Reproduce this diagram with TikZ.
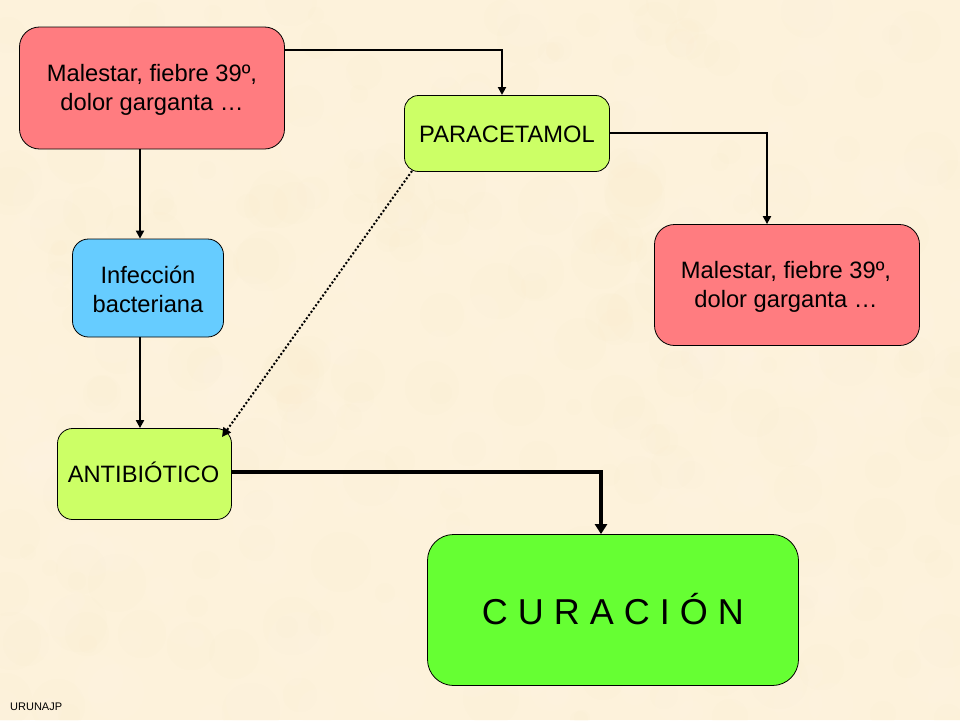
\documentclass[tikz,border=0pt]{standalone}
\usepackage{fontspec}
\setmainfont{Liberation Sans}
\usetikzlibrary{arrows.meta,calc}
\definecolor{paper}{HTML}{FDF2DB}
\definecolor{paperlight}{HTML}{FFF8EA}
\definecolor{paperdark}{HTML}{FBECCD}
\definecolor{redbox}{HTML}{FF7C80}
\definecolor{bluebox}{HTML}{66CCFF}
\definecolor{limebox}{HTML}{CCFF66}
\definecolor{greenbox}{HTML}{66FF33}
\tikzset{
  x=1pt,y=-1pt,
  box/.style={draw=black,line width=0.8pt,rounded corners=#1,anchor=center,inner sep=0pt},
  box/.default=20pt,
  lab/.style={align=center,inner sep=0pt,font=\fontsize{23.7}{29}\selectfont},
  link/.style={draw=black,line width=2pt,-{Triangle[length=8pt,width=8pt]}},
  biglink/.style={draw=black,line width=4pt,-{Triangle[length=10pt,width=12pt]}},
  dotlink/.style={draw=black,line width=2pt,dash pattern=on 2pt off 2pt,-{Triangle[length=9pt,width=9pt]}}
}
\begin{document}
\begin{tikzpicture}
\useasboundingbox (0,0) rectangle (960,720);
\fill[paper] (0,0) rectangle (960,720);
\pgfmathsetseed{7}
\foreach \i in {1,...,500}{
  \pgfmathsetmacro{\px}{random(0,960)}
  \pgfmathsetmacro{\py}{random(0,720)}
  \pgfmathsetmacro{\pr}{random(8,30)}
  \pgfmathtruncatemacro{\pc}{mod(\i,2)}
  \ifnum\pc=0
    \fill[paperlight,opacity=.12] (\px,\py) circle[radius=\pr];
  \else
    \fill[paperdark,opacity=.12] (\px,\py) circle[radius=\pr];
  \fi
}

\node[box,fill=redbox,minimum width=265pt,minimum height=122pt,label={[lab,yshift=-1.5pt]center:Malestar, fiebre 39º,\\dolor garganta …}] (s1) at (152,88) {};
\node[box=14pt,fill=limebox,minimum width=205pt,minimum height=76pt,label={[lab,yshift=-0.5pt]center:PARACETAMOL}] (pa) at (507,133.5) {};
\node[box,fill=redbox,minimum width=265pt,minimum height=121pt,label={[lab,yshift=-1.5pt,xshift=-1pt]center:Malestar, fiebre 39º,\\dolor garganta …}] (s2) at (787,285) {};
\node[box=16pt,fill=bluebox,minimum width=151pt,minimum height=98pt,label={[lab,yshift=-1pt]center:Infección\\bacteriana}] (in) at (148,288) {};
\node[box=15pt,fill=limebox,minimum width=174pt,minimum height=91pt,label={[lab,yshift=1.5pt,xshift=-1pt]center:ANTIBIÓTICO}] (an) at (144.5,474) {};
\node[box=26pt,fill=greenbox,minimum width=371pt,minimum height=151pt,label={[inner sep=0pt,font=\fontsize{36}{40}\selectfont,yshift=1pt]center:C U R A C I Ó N}] (cu) at (613,610) {};
\node[font=\fontsize{11}{12}\selectfont,anchor=west,inner sep=0pt] (ur) at (10,707) {URUNAJP};

\coordinate (t1) at (s1.east |- 0,50);
\coordinate (t2) at (502,50);
\coordinate (t3) at (502,95);
\draw[link] (t1) -- (t2) -- (t3);
\coordinate (u2) at (767,133);
\draw[link] (pa.east |- u2) -- (u2) -- (u2 |- s2.north);
\coordinate (v) at (140,0);
\draw[link] (v |- s1.south) -- (v |- in.north);
\draw[link] (v |- in.south) -- (v |- an.north);
\coordinate (d1) at (412,171);
\coordinate (d2) at (222,437);
\draw[dotlink] (d1) -- (d2);
\coordinate (w) at (601,472);
\draw[biglink] (an.east |- w) -- (w) -- (w |- cu.north);
\end{tikzpicture}
\end{document}
